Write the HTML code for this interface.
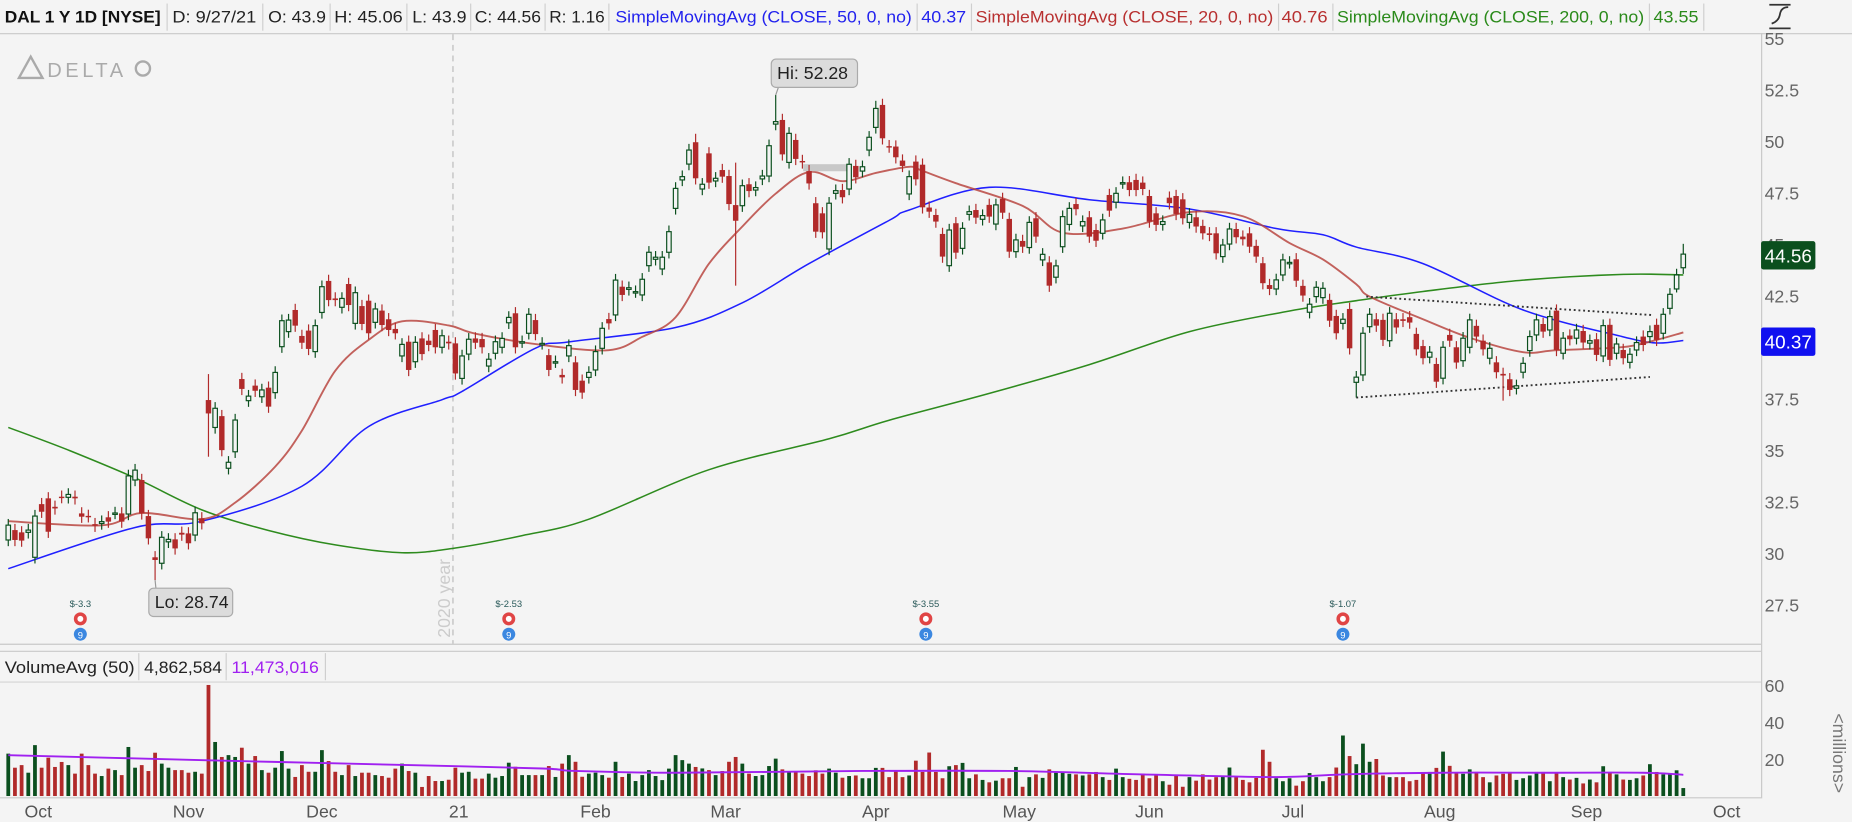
<!DOCTYPE html>
<html><head><meta charset="utf-8"><style>
html,body{margin:0;padding:0;background:#f4f4f4;overflow:hidden}
svg{display:block}
text{font-family:"Liberation Sans",sans-serif}
</style></head><body>
<svg id="chart" width="1852" height="822" viewBox="0 0 1568 696" preserveAspectRatio="none" xmlns="http://www.w3.org/2000/svg">
<rect x="0" y="0" width="1568" height="696" fill="#f4f4f4"/>
<g font-size="14">
 <text x="4" y="19" font-weight="bold" fill="#111" textLength="132" lengthAdjust="spacingAndGlyphs">DAL 1 Y 1D [NYSE]</text>
 <text x="146" y="19" fill="#222" textLength="71" lengthAdjust="spacingAndGlyphs">D: 9/27/21</text>
 <text x="227" y="19" fill="#222" textLength="49" lengthAdjust="spacingAndGlyphs">O: 43.9</text>
 <text x="283" y="19" fill="#222" textLength="58" lengthAdjust="spacingAndGlyphs">H: 45.06</text>
 <text x="349" y="19" fill="#222" textLength="46" lengthAdjust="spacingAndGlyphs">L: 43.9</text>
 <text x="402" y="19" fill="#222" textLength="56" lengthAdjust="spacingAndGlyphs">C: 44.56</text>
 <text x="465" y="19" fill="#222" textLength="47" lengthAdjust="spacingAndGlyphs">R: 1.16</text>
 <text x="521" y="19" fill="#2222ee" textLength="251" lengthAdjust="spacingAndGlyphs">SimpleMovingAvg (CLOSE, 50, 0, no)</text>
 <text x="780" y="19" fill="#2222ee" textLength="38" lengthAdjust="spacingAndGlyphs">40.37</text>
 <text x="826" y="19" fill="#b83030" textLength="252" lengthAdjust="spacingAndGlyphs">SimpleMovingAvg (CLOSE, 20, 0, no)</text>
 <text x="1085" y="19" fill="#b83030" textLength="39" lengthAdjust="spacingAndGlyphs">40.76</text>
 <text x="1132" y="19" fill="#2a8a1a" textLength="260" lengthAdjust="spacingAndGlyphs">SimpleMovingAvg (CLOSE, 200, 0, no)</text>
 <text x="1400" y="19" fill="#2a8a1a" textLength="38" lengthAdjust="spacingAndGlyphs">43.55</text>
</g>
<g id="seps" stroke="#cfcfcf" stroke-width="1"></g>
<line x1="0" y1="28.5" x2="1568" y2="28.5" stroke="#c8c8c8"/>
<line x1="1491.5" y1="28" x2="1491.5" y2="676" stroke="#c8c8c8"/>
<line x1="0" y1="545.5" x2="1491" y2="545.5" stroke="#c8c8c8"/>
<line x1="0" y1="551.5" x2="1491" y2="551.5" stroke="#c8c8c8"/>
<line x1="0" y1="577.5" x2="1491" y2="577.5" stroke="#d4d4d4"/>
<line x1="0" y1="675.5" x2="1491" y2="675.5" stroke="#c8c8c8"/>
<g fill="none" stroke="#333" stroke-width="1.5">
 <line x1="1498" y1="4" x2="1516" y2="4"/><line x1="1498" y1="24" x2="1516" y2="24"/>
 <path d="M1500 20 Q1506 18 1507 12 Q1508 6 1514 6"/>
</g>
<g>
 <polygon points="16,66 26,48 36,66" fill="none" stroke="#aaa" stroke-width="2"/>
 <text x="40" y="65" font-size="17" fill="#aaa" letter-spacing="3">DELTA</text>
 <circle cx="121" cy="58" r="6" fill="none" stroke="#aaa" stroke-width="2"/>
</g>
<line x1="383.5" y1="29" x2="383.5" y2="545" stroke="#bbb" stroke-dasharray="5,4"/>
<text transform="translate(381,540) rotate(-90)" font-size="15" fill="#ccc">2020 year</text>
<g id="plot"></g>
<g id="axes"></g>
</svg>
<script>
// ---- data ----
const opens = [30.69,31.17,31.06,31.06,29.85,32.43,32.71,32.3,32.79,32.76,32.79,31.98,31.86,31.46,31.49,31.79,32.0,31.98,31.95,33.6,33.6,31.85,29.85,29.56,30.6,30.72,31.04,31.01,30.93,31.74,37.48,36.15,36.7,34.17,34.97,38.5,37.45,38.18,37.64,38.08,37.84,40.07,40.8,41.85,40.59,40.85,39.83,41.73,43.26,42.41,41.98,43.11,41.2,42.04,42.3,41.25,41.82,41.4,40.93,39.62,40.31,39.34,40.47,40.36,40.88,40.04,40.31,40.23,
38.53,39.71,40.47,40.44,39.13,39.75,40.04,41.23,41.69,40.31,40.72,41.36,40.23,39.66,39.34,38.7,39.62,39.31,38.42,38.58,38.94,39.99,41.41,41.61,42.98,42.85,42.74,42.58,44.0,44.31,43.84,44.65,46.78,48.16,48.93,49.99,47.72,49.45,48.11,48.64,48.35,46.94,46.91,47.95,47.67,48.21,48.35,50.87,51.07,49.01,50.1,49.08,48.59,47.03,46.54,44.81,47.51,47.67,47.72,48.84,48.59,49.61,50.71,51.8,
49.8,49.78,49.1,47.48,49.05,48.9,46.82,46.46,45.54,44.0,46.06,44.84,46.49,46.7,46.25,46.95,46.02,47.24,46.27,44.68,45.2,44.88,46.3,44.28,44.16,43.44,44.92,46.0,46.99,45.93,46.35,45.73,45.57,47.43,47.08,48.03,48.05,48.16,48.03,47.38,46.54,46.0,47.3,47.38,47.22,46.1,46.35,45.93,45.57,45.57,44.44,45.05,45.78,45.41,45.57,44.96,44.12,43.06,42.87,43.55,44.16,44.31,43.02,41.74,42.5,42.45,42.34,41.56,41.2,41.9,
38.34,38.7,41.04,41.4,41.37,40.36,41.4,41.4,41.5,40.69,40.1,39.56,39.23,38.54,40.64,40.04,39.39,40.04,41.08,40.36,39.51,39.31,38.75,38.49,38.05,38.83,39.88,40.64,41.17,40.88,41.82,39.75,40.61,40.48,40.83,40.24,40.43,39.62,41.13,39.75,39.91,39.31,39.91,40.56,40.56,41.13,40.72,41.93,42.87,43.9];
const closes = [31.41,30.69,30.66,31.17,31.85,32.06,31.09,32.22,32.77,32.9,32.71,31.82,31.84,31.38,31.58,31.58,32.0,31.58,33.8,34.08,31.98,30.77,29.72,30.82,30.72,30.28,30.95,30.53,32.01,31.5,36.83,37.08,35.05,34.46,36.51,38.02,37.67,37.93,37.97,37.16,38.82,41.33,41.36,41.09,40.26,39.96,41.09,42.98,42.33,42.33,42.41,42.09,42.69,41.17,40.72,41.9,41.12,40.88,40.72,40.18,38.94,40.28,39.71,40.15,40.04,40.6,40.23,38.77,
39.62,40.43,40.26,40.04,39.46,40.31,40.47,41.49,40.04,40.31,41.64,40.68,40.23,38.94,39.34,38.58,40.12,37.97,37.84,38.82,39.83,40.96,41.2,43.3,42.58,42.93,42.74,43.34,44.65,44.41,44.41,45.65,47.75,48.32,49.61,48.24,47.95,48.03,48.24,48.32,46.99,46.18,47.88,47.62,47.79,48.35,49.82,50.99,49.4,50.42,49.18,49.01,47.99,45.65,45.62,47.03,47.64,47.32,48.92,48.29,48.8,50.23,51.63,50.18,
49.78,49.26,48.84,48.32,48.19,46.83,46.62,46.14,44.44,45.73,44.63,45.81,46.62,46.33,46.43,46.38,46.95,46.57,44.68,45.25,44.92,46.1,45.41,44.55,43.03,43.99,46.38,46.78,46.74,46.14,45.41,45.21,46.22,46.67,47.51,48.03,47.67,47.67,47.72,46.14,45.98,46.14,47.03,46.51,46.3,46.49,45.9,45.57,45.49,44.6,45.0,45.78,45.38,45.28,44.92,44.44,43.15,42.87,43.31,44.28,44.16,43.27,42.55,42.13,42.95,42.9,41.33,40.72,41.4,39.99,
38.59,40.72,41.64,41.09,40.4,41.69,41.0,41.32,41.24,39.94,39.51,39.8,38.37,40.04,40.36,39.3,40.48,41.37,40.56,39.94,39.99,38.83,38.67,37.97,38.17,39.26,40.56,41.37,40.8,41.53,39.91,40.48,40.43,40.88,40.27,40.36,39.67,41.09,39.43,40.2,39.51,39.7,40.27,40.15,40.8,40.4,41.64,42.61,43.55,44.56];
const highBars = [115,30,103,130,109,251];
const highVals = [52.28,38.74,50.4,52.0,49.0,45.06];
const lowBars = [22,30,109,202,224,250];
const lowVals = [28.74,34.73,43.03,37.6,37.45,42.7];
const volumes = [22.9,15.3,16.7,12.6,27.5,15.3,20.7,15.7,18.4,16.7,12.1,22.9,16.7,12.1,10.8,14.8,14.0,11.3,26.5,15.3,16.7,13.5,23.4,17.5,15.3,14.0,14.0,12.6,13.1,12.1,60,29.2,21.1,22.1,21.1,26.1,17.5,21.6,14.0,12.6,15.3,24.3,14.8,10.3,16.7,13.1,13.1,24.8,18.9,13.1,11.3,16.7,10.8,12.6,12.6,11.3,10.8,9.9,14.8,17.5,13.5,12.6,4.9,10.8,8.1,8.1,8.8,15.3,12.6,13.1,9.4,9.4,12.1,9.9,10.8,18.0,15.8,11.3,11.3,11.3,11.3,16.2,10.3,17.5,22.1,18.5,10.4,12.1,12.6,11.3,9.9,18.5,10.3,12.1,8.1,11.3,14.0,10.8,8.6,14.8,22.1,19.4,17.5,15.7,14.9,14.0,11.3,13.5,18.5,21.1,17.5,12.1,10.8,11.3,16.2,20.2,14.4,13.5,13.5,12.1,10.8,13.9,12.1,14.8,12.6,9.9,10.8,
11.1,9.6,9.6,15.2,15.2,10.2,13.9,10.2,11.1,19.1,13.0,23.5,13.0,9.6,16.1,16.7,17.9,9.6,11.7,8.7,7.4,8.3,9.6,9.6,15.7,5.0,10.2,11.7,9.8,14.4,12.6,12.6,12.0,11.7,11.1,11.7,13.0,10.2,8.7,14.8,10.2,9.3,8.7,12.0,9.6,11.7,8.0,6.1,11.1,5.0,10.2,8.3,11.7,8.9,10.2,10.7,15.4,10.2,8.7,7.4,9.8,25.0,18.5,9.6,8.0,9.6,5.6,8.0,12.4,10.2,8.0,10.2,15.4,32.7,21.6,17.2,28.3,18.5,20.0,11.1,10.2,10.2,10.2,8.0,8.7,12.4,13.0,15.2,24.0,16.3,12.4,12.0,14.4,13.0,10.2,7.4,11.1,12.0,13.0,8.7,9.6,11.1,13.0,13.0,8.0,12.4,10.2,8.9,9.8,6.8,8.9,7.4,16.1,13.0,11.7,8.9,8.7,9.6,11.1,17.2,13.0,11.7,12.4,13.9,4.3];
const sma20Bars = [0,14,20,29,34,40,44,49,54,59,66,70,80,90,95,100,105,110,115,120,125,130,135,137,142,152,158,167,177,185,192,197,202,204,212,219,227,232,242,247,251];
const sma20Vals = [31.6,31.4,32.0,31.7,32.5,34.25,36.0,38.9,40.4,41.3,41.1,40.7,40.15,39.9,40.55,41.5,44.1,45.9,47.5,48.55,48.1,48.5,48.8,48.6,48.0,46.9,45.6,45.8,46.6,46.4,45.1,44.3,43.1,42.5,41.4,40.5,39.8,39.9,40.05,40.4,40.76];
const sma50Bars = [0,19,29,44,54,65,68,79,84,100,110,120,132,135,147,162,177,190,197,202,212,227,242,247,251];
const sma50Vals = [29.3,31.3,31.6,33.3,36.2,37.5,37.9,40.0,40.3,41.0,42.2,44.1,46.2,46.7,47.8,47.2,46.75,45.8,45.5,44.9,44.1,41.85,40.55,40.25,40.37];
const sma200Bars = [0,9,19,29,39,49,59,67,77,87,105,123,132,147,162,177,192,202,212,227,242,251];
const sma200Vals = [36.15,35.05,33.7,32.15,31.15,30.45,30.07,30.3,30.9,31.7,34.1,35.6,36.5,37.8,39.2,40.8,41.8,42.3,42.75,43.3,43.58,43.55];
const volAvgBars = [0,30,45,60,80,85,100,128,150,170,190,200,215,230,245,251];
const volAvgVals = [22.1,19.3,18.0,16.7,14.9,13.5,12.6,13.5,13.5,11.7,10.2,11.7,12.6,12.6,12.6,11.5];
const priceTicks = [55,52.5,50,47.5,45,42.5,40,37.5,35,32.5,30,27.5];
const volTicks = [60,40,20];
const monthLabels = ["Oct","Nov","Dec","21","Feb","Mar","Apr","May","Jun","Jul","Aug","Sep","Oct"];
const monthBars = [4.5,27,47,67.5,88,107.5,130,151.5,171,192.5,214.5,236.5,257.5];
const earningsBars = [10.8,75,137.5,200];
const earningsLabels = ["$-3.3","$-2.53","$-3.55","$-1.07"];

// ---- scales ----
const X0 = 7, STEP = 5.65;
const bx = i => X0 + i * STEP;
const py = p => 33 + (55 - p) * 17.45;
const vy = m => 674 - m * 1.567;
const NS = "http://www.w3.org/2000/svg";
const plot = document.getElementById('plot');
const axes = document.getElementById('axes');
function mk(tag, attrs, parent) {
  const e = document.createElementNS(NS, tag);
  for (const k in attrs) e.setAttribute(k, attrs[k]);
  (parent || plot).appendChild(e);
  return e;
}
const GREEN = "#0b4f1e", RED = "#b12a2a";
const WICK = 0.3;

const sepG = document.getElementById('seps');
[141,222,279,344,398,461,515,776,822,1082,1128,1396,1442].forEach(x => {
  const l = mk('line', {x1: x + .5, y1: 3, x2: x + .5, y2: 26}, sepG);
  
  
});

// volume bars
const vg = mk('g', {});


volumes.forEach((v, i) => {
  const up = closes[i] >= opens[i];
  const r = mk('rect', {x: bx(i) - 1.6, y: vy(v), width: 3.2, height: 674 - vy(v), fill: up ? GREEN : RED}, vg);
  
  
});
// smooth curve through sampled points (Catmull-Rom)
function line(bars, vals, yf, color, w, name) {
  const P = bars.map((b, k) => [bx(b), yf(vals[k])]);
  let d = 'M' + P[0][0].toFixed(1) + ',' + P[0][1].toFixed(1);
  for (let k = 0; k < P.length - 1; k++) {
    const p0 = P[Math.max(k - 1, 0)], p1 = P[k], p2 = P[k + 1], p3 = P[Math.min(k + 2, P.length - 1)];
    const c1x = p1[0] + (p2[0] - p0[0]) / 6, c1y = p1[1] + (p2[1] - p0[1]) / 6;
    const c2x = p2[0] - (p3[0] - p1[0]) / 6, c2y = p2[1] - (p3[1] - p1[1]) / 6;
    d += ' C' + c1x.toFixed(1) + ',' + c1y.toFixed(1) + ' ' + c2x.toFixed(1) + ',' + c2y.toFixed(1) + ' ' + p2[0].toFixed(1) + ',' + p2[1].toFixed(1);
  }
  const l = mk('path', {d: d, fill: 'none', stroke: color, 'stroke-width': w, 'stroke-linejoin': 'round'});
  
  
}
line(volAvgBars, volAvgVals, vy, '#a020f0', 1.6, 'volume-avg-line');

line(sma200Bars, sma200Vals, py, '#2e8b1e', 1.3, 'sma200-line');
line(sma50Bars, sma50Vals, py, '#2020ff', 1.3, 'sma50-line');
line(sma20Bars, sma20Vals, py, 'rgba(185,70,65,0.85)', 1.6, 'sma20-line');

const gh = mk('rect', {x: 680, y: 139, width: 40, height: 6, fill: '#c8c8c8'});



function tl(b1, p1, b2, p2, name) {
  const l = mk('line', {x1: bx(b1), y1: py(p1), x2: bx(b2), y2: py(p2), stroke: '#333', 'stroke-width': 1.6, 'stroke-dasharray': '1.6,2.4'});
  
  
}
tl(203.5, 42.5, 246.5, 41.6, 'upper-trendline');
tl(202, 37.6, 246, 38.6, 'lower-trendline');

// candles
const cg = mk('g', {});


closes.forEach((c, i) => {
  const o = opens[i];
  const hiIdx = highBars.indexOf(i), loIdx = lowBars.indexOf(i);
  const h = hiIdx >= 0 ? highVals[hiIdx] : Math.max(o, c) + WICK;
  const lo = loIdx >= 0 ? lowVals[loIdx] : Math.min(o, c) - WICK;
  const up = c >= o;
  const col = up ? GREEN : RED;
  const x = bx(i);
  const g = mk('g', {}, cg);
  
  
  mk('line', {x1: x, y1: py(h), x2: x, y2: py(lo), stroke: col, 'stroke-width': 1}, g);
  const top = py(Math.max(o, c)), bot = py(Math.min(o, c));
  const hgt = Math.max(bot - top, 1.2);
  if (up) mk('rect', {x: x - 1.9, y: top, width: 3.8, height: hgt, fill: '#f4f4f4', stroke: col, 'stroke-width': 1}, g);
  else mk('rect', {x: x - 2.3, y: top, width: 4.6, height: hgt, fill: col}, g);
});

function callout(bar, price, bx0, by0, w, txt, name, above) {
  const g = mk('g', {});
  
  
  const ty = py(price);
  mk('line', {x1: bx(bar), y1: ty, x2: bx0 + 6, y2: above ? by0 + 24 : by0, stroke: '#999', 'stroke-width': 1}, g);
  mk('rect', {x: bx0, y: by0, width: w, height: 24, rx: 4, fill: '#dcdcdc', stroke: '#aaa'}, g);
  mk('text', {x: bx0 + 5, y: by0 + 17, 'font-size': 15, fill: '#222'}, g).textContent = txt;
}
callout(115, 52.28, 653, 50, 73, 'Hi: 52.28', 'high-callout', true);
callout(22, 28.74, 126, 498, 71, 'Lo: 28.74', 'low-callout', false);

earningsBars.forEach((b, k) => {
  const x = bx(b);
  const g = mk('g', {});
  
  
  mk('text', {x: x, y: 514, 'font-size': 8, 'text-anchor': 'middle', fill: '#2a5a5a'}, g).textContent = earningsLabels[k];
  mk('circle', {cx: x, cy: 524, r: 5.5, fill: '#e04545'}, g);
  mk('circle', {cx: x, cy: 524, r: 2.5, fill: '#fff'}, g);
  mk('circle', {cx: x, cy: 537, r: 5.5, fill: '#3b87e0'}, g);
  mk('text', {x: x, y: 540.5, 'font-size': 8, 'text-anchor': 'middle', fill: '#fff'}, g).textContent = '9';
});

priceTicks.forEach(p => {
  const t = mk('text', {x: 1494, y: py(p) + 5, 'font-size': 15, fill: '#666'}, axes);
  
  
  t.textContent = p;
});
volTicks.forEach(v => {
  const t = mk('text', {x: 1494, y: vy(v) + 6, 'font-size': 15, fill: '#666'}, axes);
  
  
  t.textContent = v;
});
const mil = mk('text', {transform: 'translate(1552,604) rotate(90)', 'font-size': 15, fill: '#777'}, axes);


mil.textContent = '<millions>';

function badge(p, y, color, txt, name) {
  const g = mk('g', {}, axes);
  
  
  mk('rect', {x: 1491, y: y - 12, width: 46, height: 24, rx: 2, fill: color}, g);
  mk('text', {x: 1494, y: y + 6, 'font-size': 16, fill: '#fff'}, g).textContent = txt;
}
badge(closes[closes.length - 1], py(closes[closes.length - 1]) + 1, '#0b4f1e', closes[closes.length - 1].toFixed(2), 'last-price-badge');
badge(40.37, py(sma50Vals[sma50Vals.length - 1]) + 1, '#1010f0', sma50Vals[sma50Vals.length - 1].toFixed(2), 'sma50-badge');

monthLabels.forEach((m, k) => {
  const t = mk('text', {x: bx(monthBars[k]), y: 692, 'font-size': 15, 'text-anchor': 'middle', fill: '#555'}, axes);
  
  
  t.textContent = m;
});

const vh = mk('g', {}, axes);


mk('text', {x: 4, y: 570, 'font-size': 14, fill: '#222', textLength: 110, lengthAdjust: 'spacingAndGlyphs'}, vh).textContent = 'VolumeAvg (50)';
mk('text', {x: 122, y: 570, 'font-size': 14, fill: '#222', textLength: 66, lengthAdjust: 'spacingAndGlyphs'}, vh).textContent = '4,862,584';
mk('text', {x: 196, y: 570, 'font-size': 14, fill: '#a020f0', textLength: 74, lengthAdjust: 'spacingAndGlyphs'}, vh).textContent = '11,473,016';
[117, 191, 275].forEach(x => mk('line', {x1: x + .5, y1: 553, x2: x + .5, y2: 576, stroke: '#cfcfcf'}, vh));
</script>
</body></html>
